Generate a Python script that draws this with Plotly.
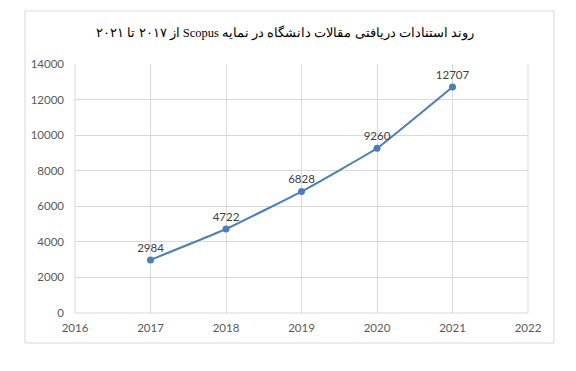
import plotly.graph_objects as go

years = [2017, 2018, 2019, 2020, 2021]
citations = [2984, 4722, 6828, 9260, 12707]
x_ticks = [2016, 2017, 2018, 2019, 2020, 2021, 2022]
y_ticks = [0, 2000, 4000, 6000, 8000, 10000, 12000, 14000]
title_text = "روند استنادات دریافتی مقالات دانشگاه در نمایه Scopus از ۲۰۱۷ تا ۲۰۲۱"

# page has an 8px body margin; coordinates below are figure coordinates
OFF = 8
W, H = 576, 371
L, R, T, B = 75 - OFF, 48 + OFF, 64 - OFF, 58 + OFF
pw, ph = W - L - R, H - T - B

def px(x):
    return (x - OFF - L) / pw

def py(y):
    return (H - B - (y - OFF)) / ph

fig = go.Figure()
fig.add_trace(go.Scatter(
    x=years, y=citations, mode="lines+markers+text",
    text=[str(v) for v in citations], textposition="top center",
    textfont=dict(family="Lato, Open Sans, sans-serif", size=11.5, color="#404040"),
    line=dict(color="#4A7EBB", width=2, shape="spline", smoothing=0.3),
    marker=dict(color="#4A7EBB", size=7),
    cliponaxis=False, showlegend=False,
))

fig.add_shape(type="rect", xref="paper", yref="paper",
              x0=px(25), x1=px(554), y0=py(343), y1=py(11),
              line=dict(color="#D9D9D9", width=1), layer="below")

fig.update_layout(
    width=W, height=H,
    margin=dict(l=L, r=R, t=T, b=B),
    paper_bgcolor="white", plot_bgcolor="white",
    title=dict(text="\u202B" + title_text + "\u202C", x=px(285), xanchor="center", xref="paper",
               y=1 - (33 - OFF) / H, yanchor="middle",
               font=dict(family="Liberation Serif, DejaVu Serif, serif", size=12.5, color="#000000")),
    xaxis=dict(range=[2016, 2022], tickvals=x_ticks, ticktext=[str(v) for v in x_ticks],
               showgrid=True, gridcolor="#D9D9D9", gridwidth=1, zeroline=False,
               showline=False, ticks="", tickfont=dict(family="Lato, Open Sans, sans-serif", size=11.5, color="#595959"),
               ticklabelstandoff=6),
    yaxis=dict(range=[0, 14000], tickvals=y_ticks, ticktext=[str(v) for v in y_ticks],
               showgrid=True, gridcolor="#D9D9D9", gridwidth=1, zeroline=False,
               showline=False, ticks="", tickfont=dict(family="Lato, Open Sans, sans-serif", size=11.5, color="#595959"),
               ticklabelstandoff=10),
)
fig.add_shape(type="line", xref="paper", yref="paper", x0=0, x1=1, y0=0, y1=0,
              line=dict(color="#D9D9D9", width=1))
fig.add_shape(type="line", xref="paper", yref="paper", x0=1, x1=1, y0=0, y1=1,
              line=dict(color="#D9D9D9", width=1))
fig.add_shape(type="line", xref="paper", yref="paper", x0=0, x1=0, y0=0, y1=1,
              line=dict(color="#D9D9D9", width=1))

fig.write_html("out.html")
